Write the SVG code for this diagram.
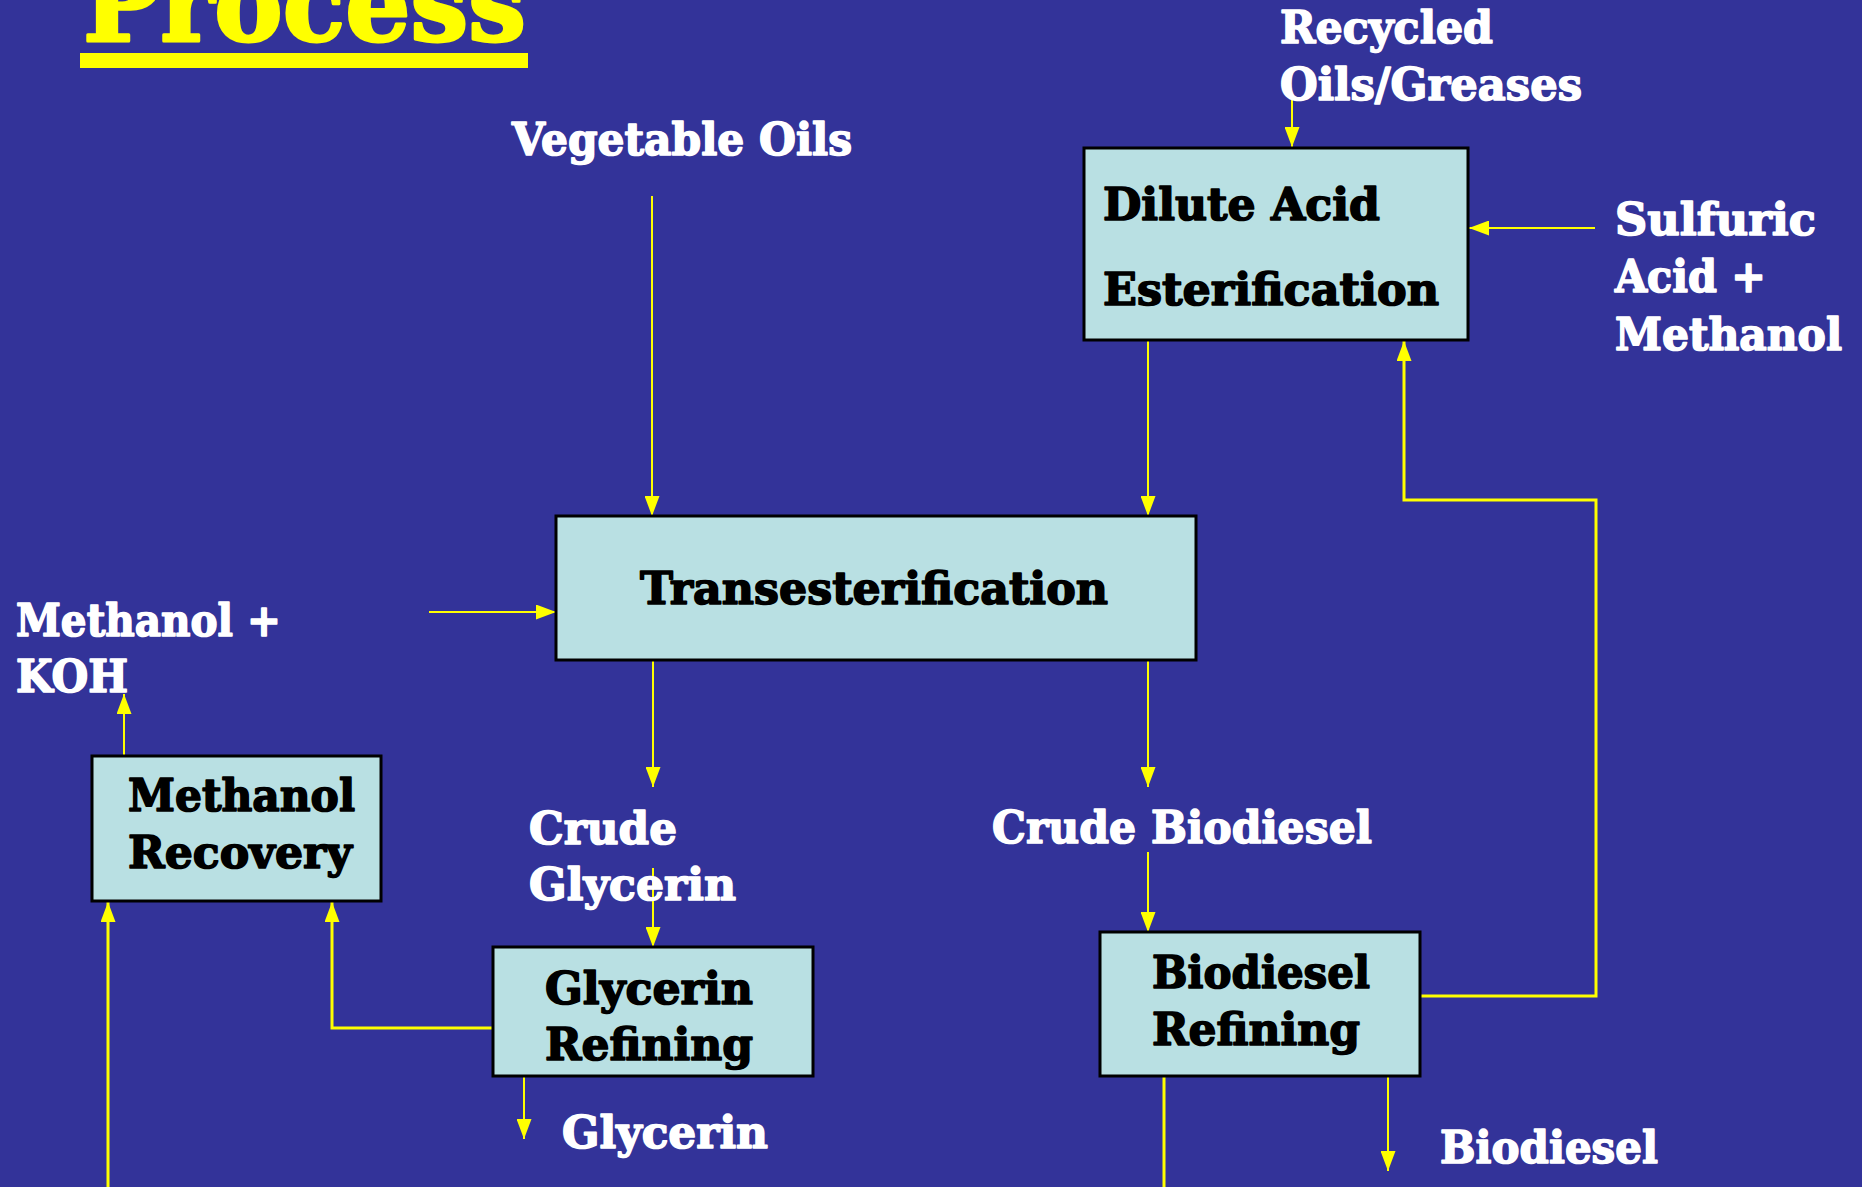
<svg xmlns="http://www.w3.org/2000/svg" width="1862" height="1187" viewBox="0 0 1862 1187">
<defs>
<style>
.bg{fill:#333399}
.box{fill:#B9E0E3;stroke:#000;stroke-width:3}
.t{font-family:"DejaVu Serif","Liberation Serif",serif;font-weight:bold;font-size:44px;stroke-width:1.6;stroke-linejoin:round}
.w{fill:#fff;stroke:#fff}
.k{fill:#000;stroke:#000}
.ln{fill:none;stroke:#FFFF00;stroke-width:2}
.lt{fill:none;stroke:#FFFF00;stroke-width:3}
</style>
<marker id="ah2" viewBox="0 0 10 10" refX="10" refY="5" markerWidth="20" markerHeight="15" markerUnits="userSpaceOnUse" orient="auto" preserveAspectRatio="none">
<path d="M0,0 L10,5 L0,10 Z" fill="#FFFF00"/>
</marker>
</defs>
<rect class="bg" x="0" y="0" width="1862" height="1187"/>

<g id="title">
<text x="83" y="41" font-family="'DejaVu Serif','Liberation Serif',serif" font-weight="bold" font-size="104" fill="#FFFF00" stroke="#FFFF00" stroke-width="3" stroke-linejoin="round" textLength="443" lengthAdjust="spacingAndGlyphs">Process</text>
<rect x="80" y="53" width="448" height="15" fill="#FFFF00"/>
</g>

<g id="connectors">
<path class="ln" d="M652,196 V516" marker-end="url(#ah2)"/>
<path class="ln" d="M1292,100 V147" marker-end="url(#ah2)"/>
<path class="ln" d="M1595,228 H1469" marker-end="url(#ah2)"/>
<path class="ln" d="M1148,340 V516" marker-end="url(#ah2)"/>
<path class="ln" d="M429,612 H556" marker-end="url(#ah2)"/>
<path class="ln" d="M653,660 V787" marker-end="url(#ah2)"/>
<path class="ln" d="M1148,660 V787" marker-end="url(#ah2)"/>
<path class="ln" d="M653,868 V947" marker-end="url(#ah2)"/>
<path class="ln" d="M1148,852 V932" marker-end="url(#ah2)"/>
<path class="ln" d="M524,1076 V1139" marker-end="url(#ah2)"/>
<path class="ln" d="M1388,1076 V1171" marker-end="url(#ah2)"/>
<path class="ln" d="M124,756 V694" marker-end="url(#ah2)"/>
<path class="lt" d="M493,1028 H332 V902" marker-end="url(#ah2)"/>
<path class="lt" d="M108,1187 V902" marker-end="url(#ah2)"/>
<path class="lt" d="M1420,996 H1596 V500 H1404 V341" marker-end="url(#ah2)"/>
<path class="lt" d="M1164,1076 V1187"/>
</g>

<g id="n-dilute">
<rect class="box" x="1084" y="148" width="384" height="192"/>
<text class="t k" x="1103" y="220" textLength="277" lengthAdjust="spacingAndGlyphs">Dilute Acid</text>
<text class="t k" x="1103" y="305" textLength="336" lengthAdjust="spacingAndGlyphs">Esterification</text>
</g>

<g id="n-trans">
<rect class="box" x="556" y="516" width="640" height="144"/>
<text class="t k" x="640" y="604" textLength="468" lengthAdjust="spacingAndGlyphs">Transesterification</text>
</g>

<g id="n-methrec">
<rect class="box" x="92" y="756" width="289" height="145"/>
<text class="t k" x="128" y="811" textLength="227" lengthAdjust="spacingAndGlyphs">Methanol</text>
<text class="t k" x="128" y="868" textLength="224" lengthAdjust="spacingAndGlyphs">Recovery</text>
</g>

<g id="n-glyref">
<rect class="box" x="493" y="947" width="320" height="129"/>
<text class="t k" x="545" y="1004" textLength="208" lengthAdjust="spacingAndGlyphs">Glycerin</text>
<text class="t k" x="545" y="1060" textLength="208" lengthAdjust="spacingAndGlyphs">Refining</text>
</g>

<g id="n-bioref">
<rect class="box" x="1100" y="932" width="320" height="144"/>
<text class="t k" x="1152" y="988" textLength="218" lengthAdjust="spacingAndGlyphs">Biodiesel</text>
<text class="t k" x="1152" y="1045" textLength="208" lengthAdjust="spacingAndGlyphs">Refining</text>
</g>

<g id="labels">
<text class="t w" x="512" y="155" textLength="340" lengthAdjust="spacingAndGlyphs">Vegetable Oils</text>
<text class="t w" x="1280" y="43" textLength="213" lengthAdjust="spacingAndGlyphs">Recycled</text>
<text class="t w" x="1280" y="100" textLength="302" lengthAdjust="spacingAndGlyphs">Oils/Greases</text>
<text class="t w" x="1615" y="235" textLength="201" lengthAdjust="spacingAndGlyphs">Sulfuric</text>
<text class="t w" x="1615" y="292" textLength="151" lengthAdjust="spacingAndGlyphs">Acid +</text>
<text class="t w" x="1615" y="350" textLength="227" lengthAdjust="spacingAndGlyphs">Methanol</text>
<text class="t w" x="16" y="636" textLength="265" lengthAdjust="spacingAndGlyphs">Methanol +</text>
<text class="t w" x="16" y="692" textLength="112" lengthAdjust="spacingAndGlyphs">KOH</text>
<text class="t w" x="529" y="844" textLength="148" lengthAdjust="spacingAndGlyphs">Crude</text>
<text class="t w" x="529" y="900" textLength="207" lengthAdjust="spacingAndGlyphs">Glycerin</text>
<text class="t w" x="992" y="843" textLength="380" lengthAdjust="spacingAndGlyphs">Crude Biodiesel</text>
<text class="t w" x="562" y="1148" textLength="206" lengthAdjust="spacingAndGlyphs">Glycerin</text>
<text class="t w" x="1440" y="1163" textLength="218" lengthAdjust="spacingAndGlyphs">Biodiesel</text>
</g>
</svg>
